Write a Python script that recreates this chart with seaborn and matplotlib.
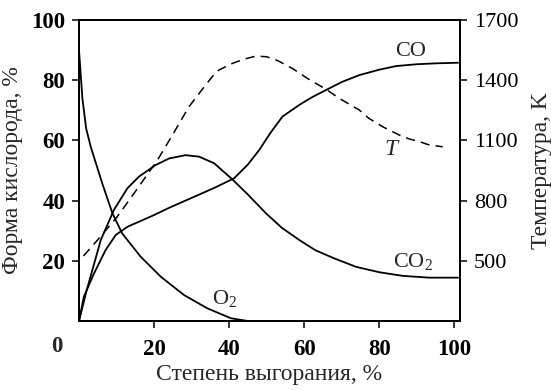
import numpy as np
import pandas as pd
import matplotlib
matplotlib.use("Agg")
import matplotlib.pyplot as plt
import seaborn as sns

# ---- data ----
o2_x = [0, 0.9, 1.9, 3.1, 6.2, 8.9, 11.5, 16.4, 21.8, 28, 34.2, 40.5, 45]
o2_y = [90, 74, 64, 58, 45.7, 35.8, 29.1, 21.4, 14.7, 8.6, 4.2, 0.9, 0]

co2_x = [0, 2, 5.8, 9.3, 12.9, 16, 20.4, 24, 28.4, 32, 36, 40.9, 45, 49.8, 54,
         58.7, 63, 68, 73.8, 80, 86.2, 93.3, 101]
co2_y = [0, 10, 26.9, 36.9, 44.1, 48, 51.8, 54, 55.1, 54.6, 52.4, 47, 42, 35.8, 31,
         26.9, 23.5, 20.8, 18, 16.2, 15, 14.4, 14.4]

co_x = [0, 1.3, 4, 7.1, 9.8, 12.9, 16, 20, 24, 28, 32, 36, 41.3, 45, 48, 51, 54.2,
        58.7, 62, 66.7, 70, 74.7, 80, 84.5, 90, 95, 101]
co_y = [0, 8.1, 15.8, 23.6, 28.6, 31.3, 33, 35.2, 37.6, 39.8, 42, 44.2, 47.4, 52, 56.8,
        62.5, 67.9, 71.8, 74.3, 77.3, 79.4, 81.7, 83.5, 84.7, 85.3, 85.6, 85.8]

t_x = [1.2, 5, 10.2, 15, 20.9, 25, 29.3, 32, 35.5, 37.3, 40.9, 44, 47.1, 50, 53,
       56.9, 61, 65.8, 69.3, 74.7, 77.3, 81, 85.3, 88, 90.7, 93, 96.9]
t_k = [524, 605, 720, 845, 1002, 1130, 1268, 1334, 1418, 1451, 1484, 1505, 1520, 1517,
       1497, 1458, 1407, 1355, 1310, 1251, 1209, 1167, 1127, 1107, 1094, 1079, 1068]

x_ticks = [20, 40, 60, 80, 100]
y_ticks = [20, 40, 60, 80, 100]
t_ticks = [500, 800, 1100, 1400, 1700]

sns.set_theme(style="ticks")
plt.rcParams['font.family'] = ['Liberation Serif', 'DejaVu Serif']
plt.rcParams['mathtext.fontset'] = 'custom'
plt.rcParams['mathtext.rm'] = 'Liberation Serif'
plt.rcParams['mathtext.it'] = 'Liberation Serif:italic'

fig = plt.figure(figsize=(5.51, 3.90), dpi=100)
ax = fig.add_axes([79/551, 1-321/390, (460-79)/551, (321-20)/390])

lw = 1.3
sns.lineplot(x=o2_x, y=o2_y, ax=ax, color='black', lw=lw, estimator=None)
sns.lineplot(x=co2_x, y=co2_y, ax=ax, color='black', lw=lw, estimator=None)
sns.lineplot(x=co_x, y=co_y, ax=ax, color='black', lw=lw, estimator=None)

ax.set_xlim(0, 101.5)
ax.set_ylim(0, 100)
ax.set_xticks(x_ticks)
ax.set_yticks(y_ticks)
ax.tick_params(axis='x', direction='out', length=5, width=1.1, labelsize=16.5,
               colors='black', pad=8)
ax.tick_params(axis='y', direction='out', length=5, width=1.1, labelsize=16.5,
               colors='black', pad=5)
for lab in ax.get_xticklabels() + ax.get_yticklabels():
    lab.set_fontweight('bold')
for s in ax.spines.values():
    s.set_linewidth(1.3)
    s.set_color('black')

ax2 = ax.twinx()
sns.lineplot(x=t_x, y=t_k, ax=ax2, color='black', lw=1.1, estimator=None,
             dashes=False)
ax2.lines[0].set_dashes((6, 4))
ax2.set_ylim(200, 1700)
ax2.set_yticks(t_ticks)
ax2.tick_params(axis='y', direction='out', length=5, width=1.1, labelsize=16,
                colors='black', pad=5)
for s in ax2.spines.values():
    s.set_linewidth(1.3)
    s.set_color('black')

ax.set_xlabel('Степень выгорания, %', fontsize=17, labelpad=3)
ax.set_ylabel('Форма кислорода, %', fontsize=17, labelpad=6)
ax2.set_ylabel('Температура, K', fontsize=17, labelpad=9)

ax.text(-5.8, -8.6, '0', fontsize=16.5, fontweight='bold', ha='center', va='center',
        clip_on=False)

ax.text(88.3, 89.6, 'CO', fontsize=16, ha='center', va='center')
ax.text(89, 19.8, r'CO$_2$', fontsize=16, ha='center', va='center')
ax.text(38.7, 7.6, r'O$_2$', fontsize=16, ha='center', va='center')
ax.text(83.1, 57, 'T', fontsize=17, style='italic', ha='center', va='center')

fig.savefig('out.png', dpi=100)
